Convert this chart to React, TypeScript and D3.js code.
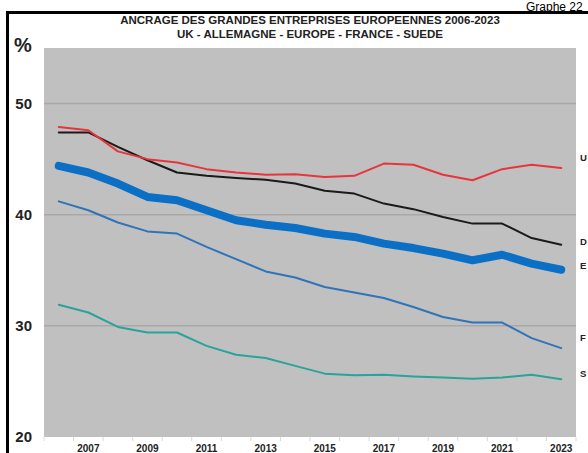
import React from "react";
import * as d3 from "d3";

const years = [2006, 2007, 2008, 2009, 2010, 2011, 2012, 2013, 2014, 2015, 2016, 2017, 2018, 2019, 2020, 2021, 2022, 2023];
const uk = [47.9, 47.6, 45.7, 45.0, 44.7, 44.1, 43.8, 43.6, 43.65, 43.4, 43.5, 44.6, 44.5, 43.6, 43.1, 44.1, 44.5, 44.2];
const allemagne = [47.4, 47.4, 46.1, 44.9, 43.8, 43.5, 43.3, 43.15, 42.8, 42.15, 41.9, 41.0, 40.5, 39.8, 39.2, 39.2, 37.9, 37.3];
const europe = [44.4, 43.8, 42.8, 41.6, 41.3, 40.4, 39.5, 39.1, 38.8, 38.3, 38.0, 37.4, 37.0, 36.5, 35.9, 36.4, 35.6, 35.05];
const france = [41.2, 40.4, 39.3, 38.5, 38.3, 37.1, 36.0, 34.9, 34.35, 33.5, 33.0, 32.5, 31.7, 30.8, 30.3, 30.3, 28.9, 28.0];
const suede = [31.9, 31.2, 29.9, 29.4, 29.4, 28.2, 27.4, 27.1, 26.4, 25.7, 25.55, 25.6, 25.45, 25.35, 25.25, 25.35, 25.6, 25.2];
const yTicks = [20, 30, 40, 50];
const xLabelYears = [2007, 2009, 2011, 2013, 2015, 2017, 2019, 2021, 2023];
const endLabels = ["U", "D", "E", "F", "S"];
const title1 = "ANCRAGE DES GRANDES ENTREPRISES EUROPEENNES 2006-2023";
const title2 = "UK - ALLEMAGNE - EUROPE - FRANCE - SUEDE";

const W = 588, H = 453;
const plot = { left: 44, right: 576, top: 48, bottom: 437 };
const FONT = "'Liberation Sans', Arial, sans-serif";

export default function App() {
  const x = d3.scaleBand<number>().domain(years).range([plot.left, plot.right]);
  const cx = (yr: number) => (x(yr) as number) + x.bandwidth() / 2;
  const y = d3.scaleLinear().domain([20, 55]).range([plot.bottom, plot.top]);
  const line = (vals: number[]) =>
    d3.line<number>().x((_, i) => cx(years[i])).y((v) => y(v))(vals) as string;

  const series = [
    { vals: suede, color: "#2aa39a", width: 2 },
    { vals: france, color: "#2f74b8", width: 2 },
    { vals: allemagne, color: "#1a1a1a", width: 2 },
    { vals: uk, color: "#e8343c", width: 2 },
    { vals: europe, color: "#0b6fc6", width: 8 },
  ];
  const labelPos = [158, 242, 266, 338, 374];
  const boundaries = d3.range(years.length + 1).map((i) => plot.left + i * x.step());

  return (
    <svg width={W} height={H} style={{ position: "absolute", left: 0, top: 0, background: "#fff" }}>
      <rect x={0} y={0} width={W} height={H} fill="#fff" />
      <text x={526} y={11} fontFamily={FONT} fontSize={12} fill="#000">Graphe 22</text>
      <line x1={7.5} y1={11} x2={7.5} y2={H} stroke="#000" strokeWidth={3} />
      <line x1={6} y1={12.5} x2={W} y2={12.5} stroke="#000" strokeWidth={3} />
      <text x={310} y={24} textAnchor="middle" fontFamily={FONT} fontWeight="bold" fontSize={11.5} fill="#222">{title1}</text>
      <text x={310} y={38} textAnchor="middle" fontFamily={FONT} fontWeight="bold" fontSize={11.5} fill="#222">{title2}</text>
      <text x={14} y={52} fontFamily={FONT} fontWeight="bold" fontSize={20} fill="#222">%</text>
      <rect x={plot.left} y={plot.top} width={plot.right - plot.left} height={plot.bottom - plot.top} fill="#c0c0c0" />
      {yTicks.filter((t) => t > 20).map((t) => (
        <line key={t} x1={plot.left} x2={plot.right} y1={y(t)} y2={y(t)} stroke="#a8a8a8" strokeWidth={1.5} />
      ))}
      {yTicks.map((t) => (
        <text key={t} x={32} y={y(t)} dy="0.36em" textAnchor="end" fontFamily={FONT} fontWeight="bold" fontSize={15} fill="#222">{t}</text>
      ))}
      {boundaries.map((b, i) => (
        <line key={i} x1={b} x2={b} y1={plot.bottom} y2={plot.bottom + 4} stroke="#d8d8d8" strokeWidth={1} />
      ))}
      {xLabelYears.map((yr) => (
        <text key={yr} x={cx(yr)} y={452} textAnchor="middle" fontFamily={FONT} fontWeight="bold" fontSize={10} fill="#222">{yr}</text>
      ))}
      {series.map((s, i) => (
        <path key={i} d={line(s.vals)} fill="none" stroke={s.color} strokeWidth={s.width} strokeLinejoin="round" strokeLinecap="round" />
      ))}
      {endLabels.map((l, i) => (
        <text key={l} x={580} y={labelPos[i]} dy="0.36em" fontFamily={FONT} fontWeight="bold" fontSize={9.5} fill="#222">{l}</text>
      ))}
    </svg>
  );
}
